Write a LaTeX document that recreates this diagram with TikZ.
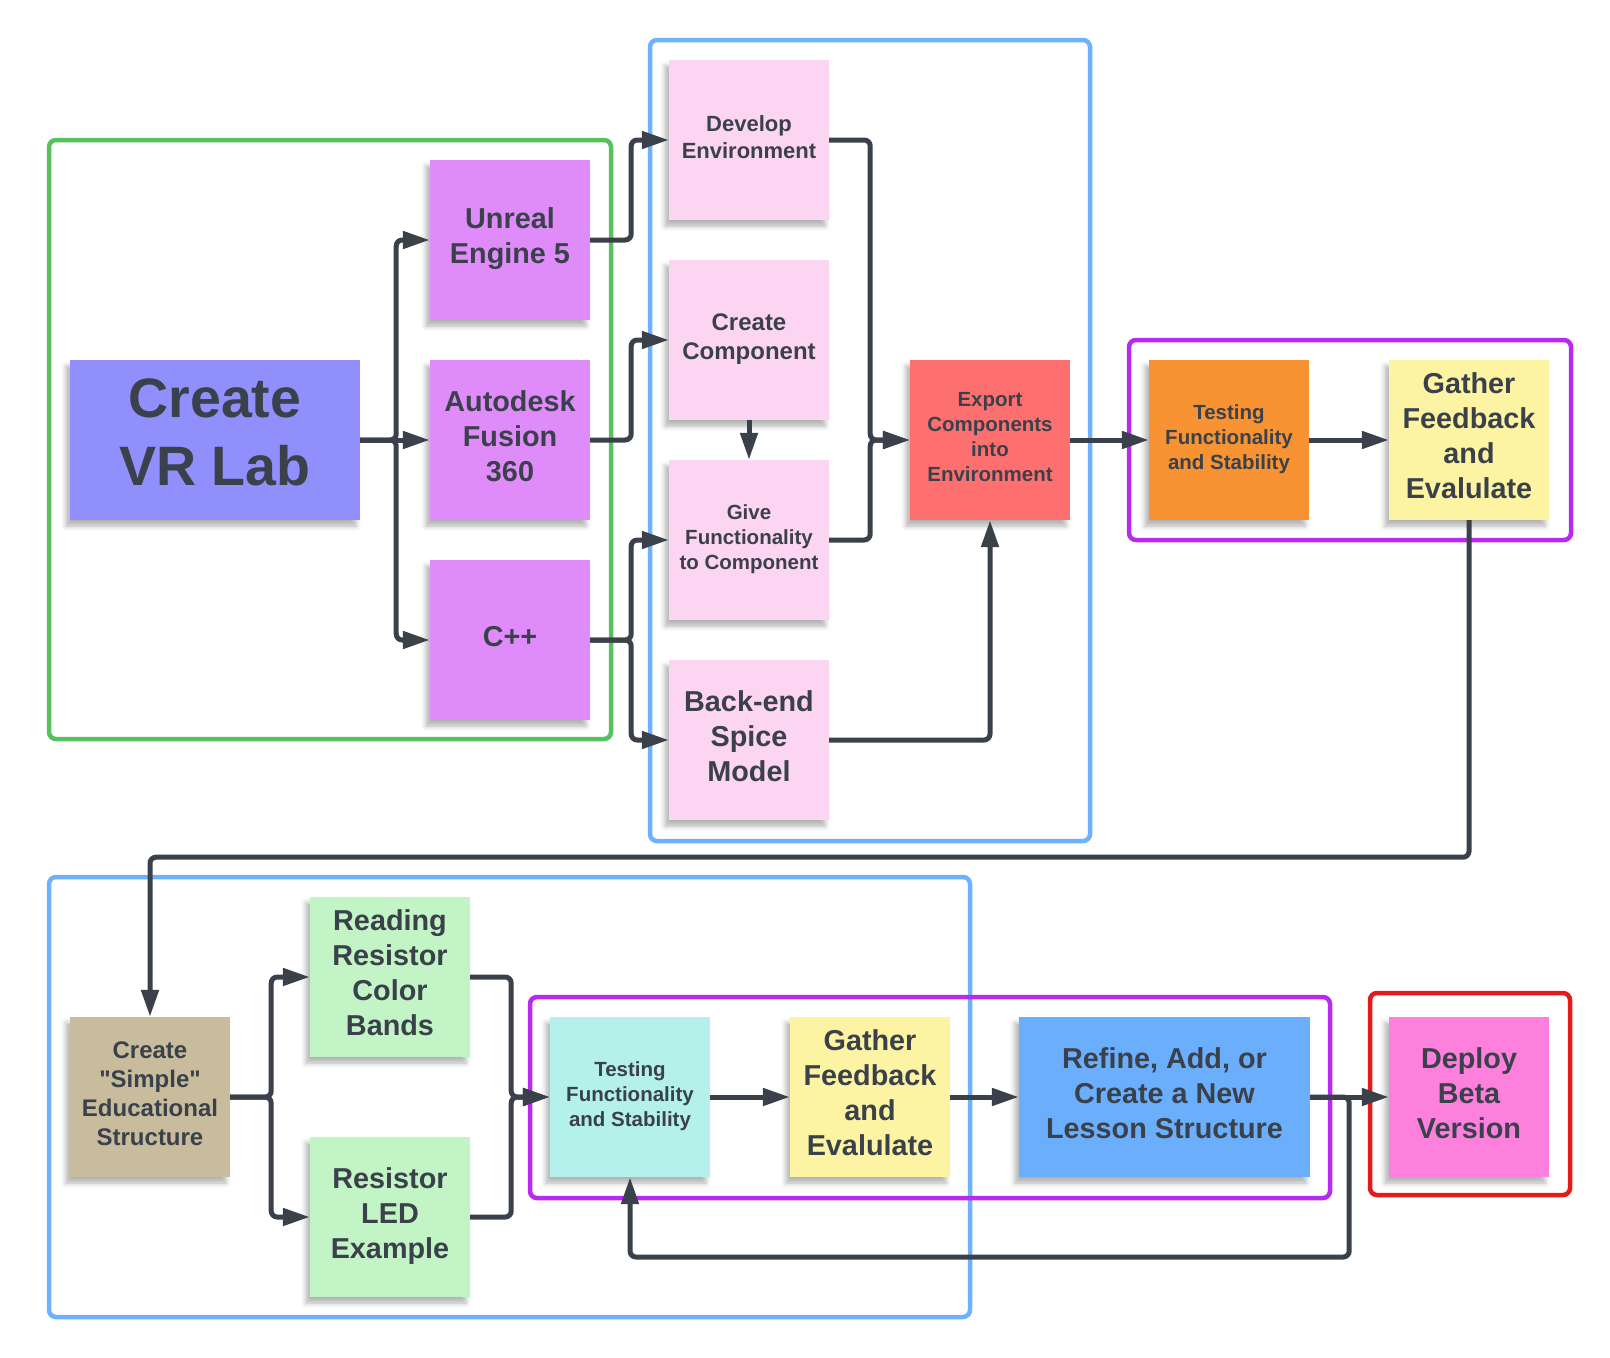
\documentclass[tikz,border=0pt]{standalone}
\usepackage{fontspec}
\setmainfont{Liberation Sans}
\usetikzlibrary{arrows.meta,shadows.blur}
\definecolor{ink}{HTML}{3A414A}
\definecolor{greenf}{HTML}{57C15D}
\definecolor{bluef}{HTML}{6DB1FF}
\definecolor{purf}{HTML}{B92AF0}
\definecolor{redf}{HTML}{E51A1A}
\definecolor{vrc}{HTML}{918FFC}
\definecolor{purc}{HTML}{DF8CFA}
\definecolor{pinkc}{HTML}{FCD5F2}
\definecolor{redc}{HTML}{FE7070}
\definecolor{orc}{HTML}{F89334}
\definecolor{yelc}{HTML}{FDF4A3}
\definecolor{tanc}{HTML}{C8BC9C}
\definecolor{grc}{HTML}{C2F4C6}
\definecolor{cyc}{HTML}{B3F1EA}
\definecolor{bluc}{HTML}{6BAFFC}
\definecolor{depc}{HTML}{FC80DC}
\tikzset{
  note/.style={rectangle, inner sep=0pt, minimum width=160pt, minimum height=160pt,
    align=center, text=ink,
    execute at begin node={\rule{0pt}{0.76em}},
    execute at end node={\rule[-0.284em]{0pt}{0pt}},
    blur shadow={shadow xshift=-4pt, shadow yshift=-6pt, shadow opacity=30, shadow blur radius=5pt}},
  huge/.style={font=\bfseries\fontsize{55.5}{68}\selectfont},
  big/.style={font=\bfseries\fontsize{28.8}{35}\selectfont},
  mid/.style={font=\bfseries\fontsize{24}{29}\selectfont},
  sml/.style={font=\bfseries\fontsize{22}{26.7}\selectfont},
  tiny/.style={font=\bfseries\fontsize{20.5}{24.8}\selectfont},
  conn/.style={draw=ink, line width=5pt, rounded corners=6pt},
  arr/.style={conn, -{Triangle[length=27pt,width=17pt]}},
  frame/.style={rounded corners=7pt, line width=4.5pt}
}
\begin{document}
\begin{tikzpicture}[x=1pt,y=-1pt]
\useasboundingbox (0,0) rectangle (1610,1358);
% frames
\draw[frame, draw=greenf] (49,140) rectangle (611,739);
\draw[frame, draw=bluef] (650,40) rectangle (1090,841);
\draw[frame, draw=purf] (1129,340) rectangle (1571,540);
\draw[frame, draw=bluef] (49,877) rectangle (970,1317);
\draw[frame, draw=purf] (530,997) rectangle (1330,1198);
\draw[frame, draw=redf] (1370,993) rectangle (1570,1195);
% nodes top
\node[note, huge, fill=vrc, minimum width=290pt] (vr) at (215,440) {Create\\VR Lab};
\node[note, big, fill=purc] (ue) at (510,240) {Unreal\\Engine 5};
\node[note, big, fill=purc] (af) at (510,440) {Autodesk\\Fusion\\360};
\node[note, big, fill=purc] (cpp) at (510,640) {C++};
\node[note, sml, fill=pinkc] (dev) at (749,140) {Develop\\Environment};
\node[note, mid, fill=pinkc] (cc) at (749,340) {Create\\Component};
\node[note, tiny, fill=pinkc] (gf) at (749,540) {Give\\Functionality\\to Component};
\node[note, big, fill=pinkc] (be) at (749,740) {Back-end\\Spice\\Model};
\node[note, tiny, fill=redc] (ex) at (990,440) {Export\\Components\\into\\Environment};
\node[note, tiny, fill=orc] (t1) at (1229,440) {Testing\\Functionality\\and Stability};
\node[note, big, fill=yelc] (g1) at (1469,440) {Gather\\Feedback\\and\\Evalulate};
% nodes bottom
\node[note, mid, fill=tanc] (cs) at (150,1097) {Create\\\textquotedbl Simple\textquotedbl\\Educational\\Structure};
\node[note, big, fill=grc] (rr) at (390,977) {Reading\\Resistor\\Color\\Bands};
\node[note, big, fill=grc] (rl) at (390,1217) {Resistor\\LED\\Example};
\node[note, tiny, fill=cyc] (t2) at (630,1097) {Testing\\Functionality\\and Stability};
\node[note, big, fill=yelc] (g2) at (870,1097) {Gather\\Feedback\\and\\Evalulate};
\node[note, big, fill=bluc, minimum width=291pt] (rf) at (1164.5,1097) {Refine, Add, or\\Create a New\\Lesson Structure};
\node[note, big, fill=depc] (dp) at (1469,1097) {Deploy\\Beta\\Version};
% connectors top
\draw[arr] (vr.east) -- ++(36,0) |- (ue.west);
\draw[arr] (vr.east) -- (af.west);
\draw[arr] (vr.east) -- ++(36,0) |- (cpp.west);
\draw[arr] (ue.east) -- ++(41,0) |- (dev.west);
\draw[arr] (af.east) -- ++(41,0) |- (cc.west);
\draw[arr] (cpp.east) -- ++(41,0) |- (gf.west);
\draw[arr] (cpp.east) -- ++(41,0) |- (be.west);
\draw[arr] (cc.south) -- (gf.north);
\draw[arr] (dev.east) -- ++(41,0) |- (ex.west);
\draw[arr] (gf.east) -- ++(41,0) |- (ex.west);
\draw[arr] (be.east) -| (ex.south);
\draw[arr] (ex.east) -- (t1.west);
\draw[arr] (t1.east) -- (g1.west);
\draw[arr] (g1.south) -- ++(0,337) -| (cs.north);
% connectors bottom
\draw[arr] (cs.east) -- ++(41,0) |- (rr.west);
\draw[arr] (cs.east) -- ++(41,0) |- (rl.west);
\draw[arr] (rr.east) -- ++(41,0) |- (t2.west);
\draw[arr] (rl.east) -- ++(41,0) |- (t2.west);
\draw[arr] (t2.east) -- (g2.west);
\draw[arr] (g2.east) -- (rf.west);
\draw[arr] (rf.east) -- (dp.west);
\draw[arr] (rf.east) -- ++(39,0) -- ++(0,160) -| (t2.south);
\end{tikzpicture}
\end{document}
